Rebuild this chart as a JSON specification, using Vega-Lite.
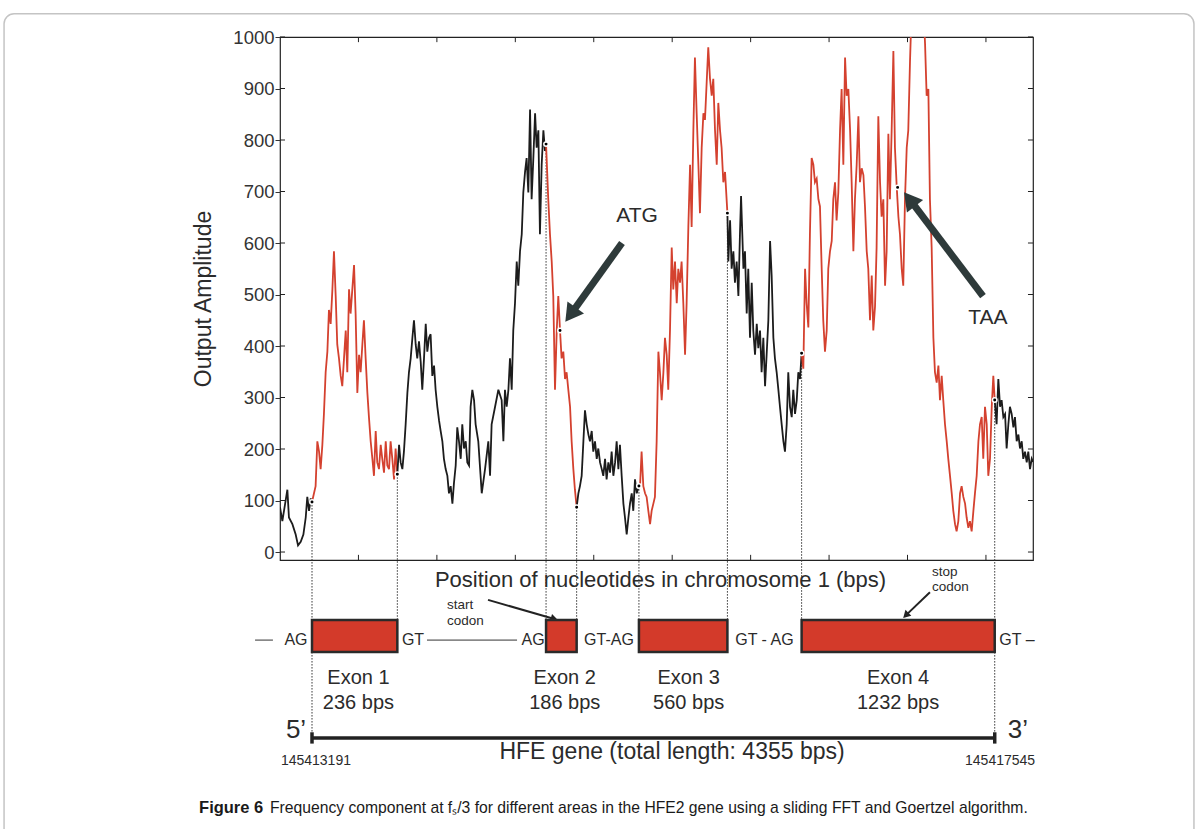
{
  "$schema": "https://vega.github.io/schema/vega-lite/v6.json",
  "width": 753,
  "height": 523,
  "autosize": {"type": "none"},
  "padding": {"left": 280, "top": 37, "right": 168, "bottom": 269},
  "background": "white",
  "config": {
    "view": {"stroke": "#222222", "strokeWidth": 1.2},
    "font": "Liberation Sans",
    "text": {"font": "Liberation Sans", "color": "#2b2b2b"},
    "axis": {"grid": false}
  },
  "datasets": {
    "hticks": [
      {"x": 0, "x2": 32, "y": 0}, {"x": 0, "x2": 32, "y": 100}, {"x": 0, "x2": 32, "y": 200}, {"x": 0, "x2": 32, "y": 300},
      {"x": 0, "x2": 32, "y": 400}, {"x": 0, "x2": 32, "y": 500}, {"x": 0, "x2": 32, "y": 600}, {"x": 0, "x2": 32, "y": 700},
      {"x": 0, "x2": 32, "y": 800}, {"x": 0, "x2": 32, "y": 900}, {"x": 0, "x2": 32, "y": 1000},
      {"x": 4768, "x2": 4800, "y": 0}, {"x": 4768, "x2": 4800, "y": 100}, {"x": 4768, "x2": 4800, "y": 200}, {"x": 4768, "x2": 4800, "y": 300},
      {"x": 4768, "x2": 4800, "y": 400}, {"x": 4768, "x2": 4800, "y": 500}, {"x": 4768, "x2": 4800, "y": 600}, {"x": 4768, "x2": 4800, "y": 700},
      {"x": 4768, "x2": 4800, "y": 800}, {"x": 4768, "x2": 4800, "y": 900}, {"x": 4768, "x2": 4800, "y": 1000}
    ],
    "vticks": [
      {"x": 500, "y": 1000, "y2": 990}, {"x": 1000, "y": 1000, "y2": 990}, {"x": 1500, "y": 1000, "y2": 990},
      {"x": 2000, "y": 1000, "y2": 990}, {"x": 2500, "y": 1000, "y2": 990}, {"x": 3000, "y": 1000, "y2": 990},
      {"x": 3500, "y": 1000, "y2": 990}, {"x": 4000, "y": 1000, "y2": 990}, {"x": 4500, "y": 1000, "y2": 990},
      {"x": 500, "y": -15.5, "y2": -5.5}, {"x": 1000, "y": -15.5, "y2": -5.5}, {"x": 1500, "y": -15.5, "y2": -5.5},
      {"x": 2000, "y": -15.5, "y2": -5.5}, {"x": 2500, "y": -15.5, "y2": -5.5}, {"x": 3000, "y": -15.5, "y2": -5.5},
      {"x": 3500, "y": -15.5, "y2": -5.5}, {"x": 4000, "y": -15.5, "y2": -5.5}, {"x": 4500, "y": -15.5, "y2": -5.5}
    ],
    "bounds": [
      {"x": 204, "y": 97, "y2": -361}, {"x": 748, "y": 151, "y2": -132}, {"x": 1696, "y": 792, "y2": -132},
      {"x": 1891, "y": 87, "y2": -132}, {"x": 2288, "y": 128, "y2": -132}, {"x": 2852, "y": 658, "y2": -132},
      {"x": 3325, "y": 386, "y2": -132}, {"x": 4556, "y": 295, "y2": -361}
    ],
    "signal": [
      {"s": 1, "p": "intron", "x": 0, "y": 87}, {"s": 1, "p": "intron", "x": 15, "y": 60}, {"s": 1, "p": "intron", "x": 47, "y": 121},
      {"s": 1, "p": "intron", "x": 57, "y": 67}, {"s": 1, "p": "intron", "x": 79, "y": 54}, {"s": 1, "p": "intron", "x": 100, "y": 34},
      {"s": 1, "p": "intron", "x": 115, "y": 13}, {"s": 1, "p": "intron", "x": 132, "y": 20}, {"s": 1, "p": "intron", "x": 149, "y": 34},
      {"s": 1, "p": "intron", "x": 164, "y": 67}, {"s": 1, "p": "intron", "x": 174, "y": 107}, {"s": 1, "p": "intron", "x": 185, "y": 80},
      {"s": 1, "p": "intron", "x": 196, "y": 104}, {"s": 1, "p": "intron", "x": 204, "y": 97},

      {"s": 2, "p": "exon", "x": 204, "y": 97}, {"s": 2, "p": "exon", "x": 227, "y": 128}, {"s": 2, "p": "exon", "x": 238, "y": 215},
      {"s": 2, "p": "exon", "x": 249, "y": 195}, {"s": 2, "p": "exon", "x": 259, "y": 161}, {"s": 2, "p": "exon", "x": 270, "y": 208},
      {"s": 2, "p": "exon", "x": 280, "y": 268}, {"s": 2, "p": "exon", "x": 291, "y": 349}, {"s": 2, "p": "exon", "x": 302, "y": 389},
      {"s": 2, "p": "exon", "x": 312, "y": 470}, {"s": 2, "p": "exon", "x": 323, "y": 443}, {"s": 2, "p": "exon", "x": 334, "y": 510},
      {"s": 2, "p": "exon", "x": 344, "y": 584}, {"s": 2, "p": "exon", "x": 355, "y": 497}, {"s": 2, "p": "exon", "x": 365, "y": 403},
      {"s": 2, "p": "exon", "x": 376, "y": 376}, {"s": 2, "p": "exon", "x": 387, "y": 342}, {"s": 2, "p": "exon", "x": 397, "y": 322},
      {"s": 2, "p": "exon", "x": 408, "y": 376}, {"s": 2, "p": "exon", "x": 419, "y": 430}, {"s": 2, "p": "exon", "x": 429, "y": 349},
      {"s": 2, "p": "exon", "x": 440, "y": 510}, {"s": 2, "p": "exon", "x": 450, "y": 463}, {"s": 2, "p": "exon", "x": 461, "y": 510},
      {"s": 2, "p": "exon", "x": 472, "y": 557}, {"s": 2, "p": "exon", "x": 482, "y": 463}, {"s": 2, "p": "exon", "x": 493, "y": 309},
      {"s": 2, "p": "exon", "x": 504, "y": 383}, {"s": 2, "p": "exon", "x": 514, "y": 349}, {"s": 2, "p": "exon", "x": 525, "y": 403},
      {"s": 2, "p": "exon", "x": 535, "y": 450}, {"s": 2, "p": "exon", "x": 546, "y": 376}, {"s": 2, "p": "exon", "x": 557, "y": 309},
      {"s": 2, "p": "exon", "x": 567, "y": 262}, {"s": 2, "p": "exon", "x": 578, "y": 215}, {"s": 2, "p": "exon", "x": 589, "y": 181},
      {"s": 2, "p": "exon", "x": 599, "y": 148}, {"s": 2, "p": "exon", "x": 610, "y": 235}, {"s": 2, "p": "exon", "x": 620, "y": 174},
      {"s": 2, "p": "exon", "x": 631, "y": 161}, {"s": 2, "p": "exon", "x": 642, "y": 208}, {"s": 2, "p": "exon", "x": 652, "y": 181},
      {"s": 2, "p": "exon", "x": 663, "y": 154}, {"s": 2, "p": "exon", "x": 674, "y": 215}, {"s": 2, "p": "exon", "x": 684, "y": 168},
      {"s": 2, "p": "exon", "x": 695, "y": 161}, {"s": 2, "p": "exon", "x": 705, "y": 215}, {"s": 2, "p": "exon", "x": 716, "y": 181},
      {"s": 2, "p": "exon", "x": 727, "y": 141}, {"s": 2, "p": "exon", "x": 737, "y": 201}, {"s": 2, "p": "exon", "x": 748, "y": 151},

      {"s": 3, "p": "intron", "x": 748, "y": 151}, {"s": 3, "p": "intron", "x": 759, "y": 208}, {"s": 3, "p": "intron", "x": 769, "y": 174},
      {"s": 3, "p": "intron", "x": 780, "y": 161}, {"s": 3, "p": "intron", "x": 790, "y": 195}, {"s": 3, "p": "intron", "x": 801, "y": 248},
      {"s": 3, "p": "intron", "x": 812, "y": 309}, {"s": 3, "p": "intron", "x": 822, "y": 349}, {"s": 3, "p": "intron", "x": 833, "y": 376},
      {"s": 3, "p": "intron", "x": 844, "y": 416}, {"s": 3, "p": "intron", "x": 854, "y": 450}, {"s": 3, "p": "intron", "x": 865, "y": 403},
      {"s": 3, "p": "intron", "x": 875, "y": 376}, {"s": 3, "p": "intron", "x": 886, "y": 409}, {"s": 3, "p": "intron", "x": 897, "y": 369},
      {"s": 3, "p": "intron", "x": 907, "y": 315}, {"s": 3, "p": "intron", "x": 918, "y": 376}, {"s": 3, "p": "intron", "x": 929, "y": 443},
      {"s": 3, "p": "intron", "x": 939, "y": 389}, {"s": 3, "p": "intron", "x": 950, "y": 416}, {"s": 3, "p": "intron", "x": 960, "y": 423},
      {"s": 3, "p": "intron", "x": 971, "y": 342}, {"s": 3, "p": "intron", "x": 982, "y": 362}, {"s": 3, "p": "intron", "x": 992, "y": 315},
      {"s": 3, "p": "intron", "x": 1003, "y": 282}, {"s": 3, "p": "intron", "x": 1014, "y": 255}, {"s": 3, "p": "intron", "x": 1024, "y": 235},
      {"s": 3, "p": "intron", "x": 1035, "y": 215}, {"s": 3, "p": "intron", "x": 1045, "y": 181}, {"s": 3, "p": "intron", "x": 1056, "y": 161},
      {"s": 3, "p": "intron", "x": 1067, "y": 148}, {"s": 3, "p": "intron", "x": 1077, "y": 114}, {"s": 3, "p": "intron", "x": 1088, "y": 128},
      {"s": 3, "p": "intron", "x": 1099, "y": 94}, {"s": 3, "p": "intron", "x": 1109, "y": 134}, {"s": 3, "p": "intron", "x": 1120, "y": 168},
      {"s": 3, "p": "intron", "x": 1130, "y": 242}, {"s": 3, "p": "intron", "x": 1141, "y": 215}, {"s": 3, "p": "intron", "x": 1152, "y": 181},
      {"s": 3, "p": "intron", "x": 1162, "y": 248}, {"s": 3, "p": "intron", "x": 1173, "y": 201}, {"s": 3, "p": "intron", "x": 1184, "y": 215},
      {"s": 3, "p": "intron", "x": 1194, "y": 174}, {"s": 3, "p": "intron", "x": 1205, "y": 168}, {"s": 3, "p": "intron", "x": 1215, "y": 282},
      {"s": 3, "p": "intron", "x": 1226, "y": 315}, {"s": 3, "p": "intron", "x": 1237, "y": 295}, {"s": 3, "p": "intron", "x": 1247, "y": 248},
      {"s": 3, "p": "intron", "x": 1264, "y": 215}, {"s": 3, "p": "intron", "x": 1286, "y": 114}, {"s": 3, "p": "intron", "x": 1307, "y": 161},
      {"s": 3, "p": "intron", "x": 1328, "y": 215}, {"s": 3, "p": "intron", "x": 1339, "y": 148}, {"s": 3, "p": "intron", "x": 1349, "y": 248},
      {"s": 3, "p": "intron", "x": 1371, "y": 282}, {"s": 3, "p": "intron", "x": 1392, "y": 315}, {"s": 3, "p": "intron", "x": 1413, "y": 295},
      {"s": 3, "p": "intron", "x": 1424, "y": 215}, {"s": 3, "p": "intron", "x": 1434, "y": 315}, {"s": 3, "p": "intron", "x": 1445, "y": 282},
      {"s": 3, "p": "intron", "x": 1456, "y": 315}, {"s": 3, "p": "intron", "x": 1466, "y": 376}, {"s": 3, "p": "intron", "x": 1477, "y": 315},
      {"s": 3, "p": "intron", "x": 1487, "y": 430}, {"s": 3, "p": "intron", "x": 1498, "y": 483}, {"s": 3, "p": "intron", "x": 1509, "y": 564},
      {"s": 3, "p": "intron", "x": 1519, "y": 517}, {"s": 3, "p": "intron", "x": 1530, "y": 584}, {"s": 3, "p": "intron", "x": 1541, "y": 617},
      {"s": 3, "p": "intron", "x": 1551, "y": 698}, {"s": 3, "p": "intron", "x": 1562, "y": 738}, {"s": 3, "p": "intron", "x": 1572, "y": 765},
      {"s": 3, "p": "intron", "x": 1583, "y": 698}, {"s": 3, "p": "intron", "x": 1594, "y": 859}, {"s": 3, "p": "intron", "x": 1604, "y": 685},
      {"s": 3, "p": "intron", "x": 1615, "y": 765}, {"s": 3, "p": "intron", "x": 1626, "y": 852}, {"s": 3, "p": "intron", "x": 1636, "y": 785},
      {"s": 3, "p": "intron", "x": 1647, "y": 819}, {"s": 3, "p": "intron", "x": 1657, "y": 617}, {"s": 3, "p": "intron", "x": 1668, "y": 752},
      {"s": 3, "p": "intron", "x": 1679, "y": 819}, {"s": 3, "p": "intron", "x": 1689, "y": 779}, {"s": 3, "p": "intron", "x": 1696, "y": 792},

      {"s": 4, "p": "exon", "x": 1696, "y": 792}, {"s": 4, "p": "exon", "x": 1710, "y": 685}, {"s": 4, "p": "exon", "x": 1721, "y": 617},
      {"s": 4, "p": "exon", "x": 1732, "y": 564}, {"s": 4, "p": "exon", "x": 1742, "y": 497}, {"s": 4, "p": "exon", "x": 1753, "y": 315},
      {"s": 4, "p": "exon", "x": 1764, "y": 430}, {"s": 4, "p": "exon", "x": 1774, "y": 497}, {"s": 4, "p": "exon", "x": 1785, "y": 430},
      {"s": 4, "p": "exon", "x": 1795, "y": 376}, {"s": 4, "p": "exon", "x": 1806, "y": 389}, {"s": 4, "p": "exon", "x": 1817, "y": 336},
      {"s": 4, "p": "exon", "x": 1827, "y": 349}, {"s": 4, "p": "exon", "x": 1838, "y": 315}, {"s": 4, "p": "exon", "x": 1849, "y": 282},
      {"s": 4, "p": "exon", "x": 1859, "y": 215}, {"s": 4, "p": "exon", "x": 1870, "y": 161}, {"s": 4, "p": "exon", "x": 1880, "y": 121},
      {"s": 4, "p": "exon", "x": 1891, "y": 87},

      {"s": 5, "p": "intron", "x": 1891, "y": 87}, {"s": 5, "p": "intron", "x": 1902, "y": 114}, {"s": 5, "p": "intron", "x": 1912, "y": 128},
      {"s": 5, "p": "intron", "x": 1923, "y": 148}, {"s": 5, "p": "intron", "x": 1934, "y": 215}, {"s": 5, "p": "intron", "x": 1944, "y": 275},
      {"s": 5, "p": "intron", "x": 1955, "y": 248}, {"s": 5, "p": "intron", "x": 1966, "y": 228}, {"s": 5, "p": "intron", "x": 1976, "y": 215},
      {"s": 5, "p": "intron", "x": 1987, "y": 235}, {"s": 5, "p": "intron", "x": 1997, "y": 195}, {"s": 5, "p": "intron", "x": 2008, "y": 215},
      {"s": 5, "p": "intron", "x": 2019, "y": 181}, {"s": 5, "p": "intron", "x": 2029, "y": 201}, {"s": 5, "p": "intron", "x": 2040, "y": 174},
      {"s": 5, "p": "intron", "x": 2051, "y": 161}, {"s": 5, "p": "intron", "x": 2061, "y": 148}, {"s": 5, "p": "intron", "x": 2072, "y": 181},
      {"s": 5, "p": "intron", "x": 2082, "y": 141}, {"s": 5, "p": "intron", "x": 2093, "y": 174}, {"s": 5, "p": "intron", "x": 2104, "y": 154},
      {"s": 5, "p": "intron", "x": 2114, "y": 195}, {"s": 5, "p": "intron", "x": 2125, "y": 148}, {"s": 5, "p": "intron", "x": 2136, "y": 174},
      {"s": 5, "p": "intron", "x": 2146, "y": 215}, {"s": 5, "p": "intron", "x": 2157, "y": 161}, {"s": 5, "p": "intron", "x": 2167, "y": 208},
      {"s": 5, "p": "intron", "x": 2178, "y": 148}, {"s": 5, "p": "intron", "x": 2189, "y": 94}, {"s": 5, "p": "intron", "x": 2199, "y": 67},
      {"s": 5, "p": "intron", "x": 2210, "y": 34}, {"s": 5, "p": "intron", "x": 2221, "y": 67}, {"s": 5, "p": "intron", "x": 2231, "y": 94},
      {"s": 5, "p": "intron", "x": 2242, "y": 114}, {"s": 5, "p": "intron", "x": 2252, "y": 80}, {"s": 5, "p": "intron", "x": 2263, "y": 141},
      {"s": 5, "p": "intron", "x": 2274, "y": 114}, {"s": 5, "p": "intron", "x": 2288, "y": 128},

      {"s": 6, "p": "exon", "x": 2288, "y": 128}, {"s": 6, "p": "exon", "x": 2295, "y": 128}, {"s": 6, "p": "exon", "x": 2305, "y": 195},
      {"s": 6, "p": "exon", "x": 2316, "y": 128}, {"s": 6, "p": "exon", "x": 2327, "y": 114}, {"s": 6, "p": "exon", "x": 2337, "y": 107},
      {"s": 6, "p": "exon", "x": 2348, "y": 80}, {"s": 6, "p": "exon", "x": 2359, "y": 54}, {"s": 6, "p": "exon", "x": 2369, "y": 80},
      {"s": 6, "p": "exon", "x": 2380, "y": 94}, {"s": 6, "p": "exon", "x": 2390, "y": 107}, {"s": 6, "p": "exon", "x": 2401, "y": 215},
      {"s": 6, "p": "exon", "x": 2412, "y": 389}, {"s": 6, "p": "exon", "x": 2422, "y": 349}, {"s": 6, "p": "exon", "x": 2433, "y": 295},
      {"s": 6, "p": "exon", "x": 2444, "y": 349}, {"s": 6, "p": "exon", "x": 2454, "y": 416}, {"s": 6, "p": "exon", "x": 2465, "y": 383},
      {"s": 6, "p": "exon", "x": 2475, "y": 315}, {"s": 6, "p": "exon", "x": 2486, "y": 430}, {"s": 6, "p": "exon", "x": 2497, "y": 591},
      {"s": 6, "p": "exon", "x": 2507, "y": 510}, {"s": 6, "p": "exon", "x": 2518, "y": 564}, {"s": 6, "p": "exon", "x": 2529, "y": 483},
      {"s": 6, "p": "exon", "x": 2539, "y": 550}, {"s": 6, "p": "exon", "x": 2550, "y": 523}, {"s": 6, "p": "exon", "x": 2560, "y": 564},
      {"s": 6, "p": "exon", "x": 2571, "y": 483}, {"s": 6, "p": "exon", "x": 2582, "y": 383}, {"s": 6, "p": "exon", "x": 2592, "y": 483},
      {"s": 6, "p": "exon", "x": 2603, "y": 631}, {"s": 6, "p": "exon", "x": 2614, "y": 752}, {"s": 6, "p": "exon", "x": 2624, "y": 631},
      {"s": 6, "p": "exon", "x": 2635, "y": 819}, {"s": 6, "p": "exon", "x": 2645, "y": 960}, {"s": 6, "p": "exon", "x": 2656, "y": 852},
      {"s": 6, "p": "exon", "x": 2667, "y": 752}, {"s": 6, "p": "exon", "x": 2677, "y": 658}, {"s": 6, "p": "exon", "x": 2688, "y": 785},
      {"s": 6, "p": "exon", "x": 2699, "y": 852}, {"s": 6, "p": "exon", "x": 2709, "y": 839}, {"s": 6, "p": "exon", "x": 2720, "y": 913},
      {"s": 6, "p": "exon", "x": 2730, "y": 980}, {"s": 6, "p": "exon", "x": 2741, "y": 919}, {"s": 6, "p": "exon", "x": 2752, "y": 886},
      {"s": 6, "p": "exon", "x": 2762, "y": 919}, {"s": 6, "p": "exon", "x": 2773, "y": 819}, {"s": 6, "p": "exon", "x": 2784, "y": 752},
      {"s": 6, "p": "exon", "x": 2794, "y": 872}, {"s": 6, "p": "exon", "x": 2805, "y": 819}, {"s": 6, "p": "exon", "x": 2815, "y": 785},
      {"s": 6, "p": "exon", "x": 2826, "y": 718}, {"s": 6, "p": "exon", "x": 2837, "y": 738}, {"s": 6, "p": "exon", "x": 2852, "y": 658},

      {"s": 7, "p": "intron", "x": 2852, "y": 658}, {"s": 7, "p": "intron", "x": 2858, "y": 564}, {"s": 7, "p": "intron", "x": 2869, "y": 644},
      {"s": 7, "p": "intron", "x": 2879, "y": 550}, {"s": 7, "p": "intron", "x": 2890, "y": 584}, {"s": 7, "p": "intron", "x": 2900, "y": 523},
      {"s": 7, "p": "intron", "x": 2911, "y": 564}, {"s": 7, "p": "intron", "x": 2922, "y": 497}, {"s": 7, "p": "intron", "x": 2932, "y": 617},
      {"s": 7, "p": "intron", "x": 2939, "y": 691}, {"s": 7, "p": "intron", "x": 2947, "y": 617}, {"s": 7, "p": "intron", "x": 2954, "y": 550},
      {"s": 7, "p": "intron", "x": 2964, "y": 584}, {"s": 7, "p": "intron", "x": 2975, "y": 463}, {"s": 7, "p": "intron", "x": 2985, "y": 550},
      {"s": 7, "p": "intron", "x": 2996, "y": 416}, {"s": 7, "p": "intron", "x": 3007, "y": 523}, {"s": 7, "p": "intron", "x": 3017, "y": 430},
      {"s": 7, "p": "intron", "x": 3028, "y": 383}, {"s": 7, "p": "intron", "x": 3039, "y": 443}, {"s": 7, "p": "intron", "x": 3049, "y": 396},
      {"s": 7, "p": "intron", "x": 3060, "y": 430}, {"s": 7, "p": "intron", "x": 3070, "y": 349}, {"s": 7, "p": "intron", "x": 3081, "y": 416},
      {"s": 7, "p": "intron", "x": 3092, "y": 322}, {"s": 7, "p": "intron", "x": 3102, "y": 383}, {"s": 7, "p": "intron", "x": 3113, "y": 450},
      {"s": 7, "p": "intron", "x": 3124, "y": 604}, {"s": 7, "p": "intron", "x": 3134, "y": 537}, {"s": 7, "p": "intron", "x": 3145, "y": 416},
      {"s": 7, "p": "intron", "x": 3155, "y": 376}, {"s": 7, "p": "intron", "x": 3166, "y": 349}, {"s": 7, "p": "intron", "x": 3177, "y": 315},
      {"s": 7, "p": "intron", "x": 3187, "y": 282}, {"s": 7, "p": "intron", "x": 3198, "y": 248}, {"s": 7, "p": "intron", "x": 3209, "y": 215},
      {"s": 7, "p": "intron", "x": 3219, "y": 195}, {"s": 7, "p": "intron", "x": 3230, "y": 248}, {"s": 7, "p": "intron", "x": 3240, "y": 349},
      {"s": 7, "p": "intron", "x": 3251, "y": 282}, {"s": 7, "p": "intron", "x": 3262, "y": 262}, {"s": 7, "p": "intron", "x": 3272, "y": 315},
      {"s": 7, "p": "intron", "x": 3283, "y": 268}, {"s": 7, "p": "intron", "x": 3294, "y": 295}, {"s": 7, "p": "intron", "x": 3304, "y": 349},
      {"s": 7, "p": "intron", "x": 3315, "y": 336}, {"s": 7, "p": "intron", "x": 3325, "y": 386},

      {"s": 8, "p": "exon", "x": 3325, "y": 386}, {"s": 8, "p": "exon", "x": 3336, "y": 356}, {"s": 8, "p": "exon", "x": 3347, "y": 550},
      {"s": 8, "p": "exon", "x": 3357, "y": 483}, {"s": 8, "p": "exon", "x": 3368, "y": 436}, {"s": 8, "p": "exon", "x": 3378, "y": 617},
      {"s": 8, "p": "exon", "x": 3389, "y": 765}, {"s": 8, "p": "exon", "x": 3400, "y": 752}, {"s": 8, "p": "exon", "x": 3410, "y": 718},
      {"s": 8, "p": "exon", "x": 3421, "y": 725}, {"s": 8, "p": "exon", "x": 3432, "y": 685}, {"s": 8, "p": "exon", "x": 3442, "y": 671},
      {"s": 8, "p": "exon", "x": 3453, "y": 550}, {"s": 8, "p": "exon", "x": 3463, "y": 450}, {"s": 8, "p": "exon", "x": 3474, "y": 389},
      {"s": 8, "p": "exon", "x": 3485, "y": 430}, {"s": 8, "p": "exon", "x": 3495, "y": 550}, {"s": 8, "p": "exon", "x": 3506, "y": 584},
      {"s": 8, "p": "exon", "x": 3517, "y": 604}, {"s": 8, "p": "exon", "x": 3527, "y": 685}, {"s": 8, "p": "exon", "x": 3538, "y": 718},
      {"s": 8, "p": "exon", "x": 3548, "y": 644}, {"s": 8, "p": "exon", "x": 3559, "y": 698}, {"s": 8, "p": "exon", "x": 3570, "y": 819},
      {"s": 8, "p": "exon", "x": 3580, "y": 899}, {"s": 8, "p": "exon", "x": 3591, "y": 752}, {"s": 8, "p": "exon", "x": 3602, "y": 960},
      {"s": 8, "p": "exon", "x": 3612, "y": 886}, {"s": 8, "p": "exon", "x": 3623, "y": 899}, {"s": 8, "p": "exon", "x": 3634, "y": 819},
      {"s": 8, "p": "exon", "x": 3644, "y": 718}, {"s": 8, "p": "exon", "x": 3655, "y": 584}, {"s": 8, "p": "exon", "x": 3665, "y": 685},
      {"s": 8, "p": "exon", "x": 3676, "y": 752}, {"s": 8, "p": "exon", "x": 3687, "y": 846}, {"s": 8, "p": "exon", "x": 3697, "y": 718},
      {"s": 8, "p": "exon", "x": 3708, "y": 745}, {"s": 8, "p": "exon", "x": 3719, "y": 732}, {"s": 8, "p": "exon", "x": 3729, "y": 671},
      {"s": 8, "p": "exon", "x": 3740, "y": 584}, {"s": 8, "p": "exon", "x": 3750, "y": 550}, {"s": 8, "p": "exon", "x": 3761, "y": 450},
      {"s": 8, "p": "exon", "x": 3772, "y": 537}, {"s": 8, "p": "exon", "x": 3782, "y": 430}, {"s": 8, "p": "exon", "x": 3793, "y": 477},
      {"s": 8, "p": "exon", "x": 3803, "y": 591}, {"s": 8, "p": "exon", "x": 3814, "y": 846}, {"s": 8, "p": "exon", "x": 3825, "y": 718},
      {"s": 8, "p": "exon", "x": 3835, "y": 651}, {"s": 8, "p": "exon", "x": 3846, "y": 685}, {"s": 8, "p": "exon", "x": 3857, "y": 517},
      {"s": 8, "p": "exon", "x": 3867, "y": 584}, {"s": 8, "p": "exon", "x": 3878, "y": 812}, {"s": 8, "p": "exon", "x": 3888, "y": 685},
      {"s": 8, "p": "exon", "x": 3899, "y": 819}, {"s": 8, "p": "exon", "x": 3910, "y": 973}, {"s": 8, "p": "exon", "x": 3920, "y": 785},
      {"s": 8, "p": "exon", "x": 3931, "y": 711}, {"s": 8, "p": "exon", "x": 3942, "y": 651}, {"s": 8, "p": "exon", "x": 3952, "y": 617},
      {"s": 8, "p": "exon", "x": 3963, "y": 550}, {"s": 8, "p": "exon", "x": 3973, "y": 517}, {"s": 8, "p": "exon", "x": 3984, "y": 685},
      {"s": 8, "p": "exon", "x": 3995, "y": 785}, {"s": 8, "p": "exon", "x": 4005, "y": 819}, {"s": 8, "p": "exon", "x": 4016, "y": 953},
      {"s": 8, "p": "exon", "x": 4027, "y": 1060}, {"s": 8, "p": "exon", "x": 4101, "y": 1060}, {"s": 8, "p": "exon", "x": 4112, "y": 986},
      {"s": 8, "p": "exon", "x": 4122, "y": 886}, {"s": 8, "p": "exon", "x": 4133, "y": 899}, {"s": 8, "p": "exon", "x": 4143, "y": 685},
      {"s": 8, "p": "exon", "x": 4154, "y": 591}, {"s": 8, "p": "exon", "x": 4165, "y": 416}, {"s": 8, "p": "exon", "x": 4175, "y": 349},
      {"s": 8, "p": "exon", "x": 4186, "y": 329}, {"s": 8, "p": "exon", "x": 4197, "y": 362}, {"s": 8, "p": "exon", "x": 4207, "y": 295},
      {"s": 8, "p": "exon", "x": 4218, "y": 342}, {"s": 8, "p": "exon", "x": 4228, "y": 295}, {"s": 8, "p": "exon", "x": 4239, "y": 248},
      {"s": 8, "p": "exon", "x": 4250, "y": 215}, {"s": 8, "p": "exon", "x": 4260, "y": 181}, {"s": 8, "p": "exon", "x": 4271, "y": 148},
      {"s": 8, "p": "exon", "x": 4282, "y": 114}, {"s": 8, "p": "exon", "x": 4292, "y": 80}, {"s": 8, "p": "exon", "x": 4303, "y": 54},
      {"s": 8, "p": "exon", "x": 4313, "y": 40}, {"s": 8, "p": "exon", "x": 4324, "y": 60}, {"s": 8, "p": "exon", "x": 4335, "y": 114},
      {"s": 8, "p": "exon", "x": 4345, "y": 128}, {"s": 8, "p": "exon", "x": 4356, "y": 107}, {"s": 8, "p": "exon", "x": 4367, "y": 94},
      {"s": 8, "p": "exon", "x": 4377, "y": 67}, {"s": 8, "p": "exon", "x": 4388, "y": 47}, {"s": 8, "p": "exon", "x": 4398, "y": 60},
      {"s": 8, "p": "exon", "x": 4409, "y": 40}, {"s": 8, "p": "exon", "x": 4420, "y": 80}, {"s": 8, "p": "exon", "x": 4430, "y": 114},
      {"s": 8, "p": "exon", "x": 4441, "y": 148}, {"s": 8, "p": "exon", "x": 4452, "y": 215}, {"s": 8, "p": "exon", "x": 4462, "y": 248},
      {"s": 8, "p": "exon", "x": 4473, "y": 262}, {"s": 8, "p": "exon", "x": 4483, "y": 181}, {"s": 8, "p": "exon", "x": 4494, "y": 282},
      {"s": 8, "p": "exon", "x": 4505, "y": 248}, {"s": 8, "p": "exon", "x": 4515, "y": 148}, {"s": 8, "p": "exon", "x": 4526, "y": 181},
      {"s": 8, "p": "exon", "x": 4537, "y": 282}, {"s": 8, "p": "exon", "x": 4547, "y": 342}, {"s": 8, "p": "exon", "x": 4556, "y": 295},

      {"s": 9, "p": "intron", "x": 4556, "y": 295}, {"s": 9, "p": "intron", "x": 4568, "y": 248}, {"s": 9, "p": "intron", "x": 4579, "y": 336},
      {"s": 9, "p": "intron", "x": 4590, "y": 282}, {"s": 9, "p": "intron", "x": 4600, "y": 295}, {"s": 9, "p": "intron", "x": 4611, "y": 262},
      {"s": 9, "p": "intron", "x": 4622, "y": 268}, {"s": 9, "p": "intron", "x": 4632, "y": 201}, {"s": 9, "p": "intron", "x": 4643, "y": 248},
      {"s": 9, "p": "intron", "x": 4653, "y": 282}, {"s": 9, "p": "intron", "x": 4664, "y": 268}, {"s": 9, "p": "intron", "x": 4675, "y": 242},
      {"s": 9, "p": "intron", "x": 4685, "y": 262}, {"s": 9, "p": "intron", "x": 4696, "y": 215}, {"s": 9, "p": "intron", "x": 4707, "y": 228},
      {"s": 9, "p": "intron", "x": 4717, "y": 201}, {"s": 9, "p": "intron", "x": 4728, "y": 215}, {"s": 9, "p": "intron", "x": 4738, "y": 181},
      {"s": 9, "p": "intron", "x": 4749, "y": 195}, {"s": 9, "p": "intron", "x": 4760, "y": 174}, {"s": 9, "p": "intron", "x": 4770, "y": 195},
      {"s": 9, "p": "intron", "x": 4781, "y": 161}, {"s": 9, "p": "intron", "x": 4792, "y": 181}, {"s": 9, "p": "intron", "x": 4800, "y": 175}
    ],
    "dots": [
      {"x": 204, "y": 97}, {"x": 748, "y": 151}, {"x": 1696, "y": 792}, {"x": 1785, "y": 430}, {"x": 1891, "y": 87},
      {"x": 2288, "y": 128}, {"x": 2852, "y": 658}, {"x": 3325, "y": 386}, {"x": 3937, "y": 708}, {"x": 4556, "y": 295}
    ],
    "bigArrows": [
      {"x": 2180, "y": 600, "x2": 1852, "y2": 461},
      {"x": 4481, "y": 497, "x2": 4013, "y2": 685}
    ],
    "bigHeads": [
      {"x": 1852, "y": 461, "angle": 216},
      {"x": 4013, "y": 685, "angle": 322}
    ],
    "smallArrows": [
      {"x": 1326, "y": -93, "x2": 1749, "y2": -130},
      {"x": 4143, "y": -78, "x2": 3989, "y2": -123}
    ],
    "smallHeads": [
      {"x": 1749, "y": -130, "angle": 106},
      {"x": 3989, "y": -123, "angle": 226}
    ],
    "connectors": [
      {"x": -159, "x2": -45},
      {"x": 937, "x2": 1511}
    ],
    "gene": [{"x": 204, "x2": 4556}],
    "geneEnds": [{"x": 204}, {"x": 4556}],
    "exons": [
      {"name": "Exon 1", "size": "236 bps", "x": 204, "x2": 748, "center": 500},
      {"name": "Exon 2", "size": "186 bps", "x": 1696, "x2": 1891, "center": 1815},
      {"name": "Exon 3", "size": "560 bps", "x": 2288, "x2": 2852, "center": 2605},
      {"name": "Exon 4", "size": "1232 bps", "x": 3325, "x2": 4556, "center": 3940}
    ],
    "sites": [
      {"t": "AG", "x": 102}, {"t": "GT", "x": 848}, {"t": "AG", "x": 1613},
      {"t": "GT-AG", "x": 2097}, {"t": "GT - AG", "x": 3088}, {"t": "GT –", "x": 4698}
    ],
    "codonNotes": [
      {"t": "start", "x": 1064, "y": -103}, {"t": "codon", "x": 1064, "y": -134},
      {"t": "stop", "x": 4156, "y": -39}, {"t": "codon", "x": 4156, "y": -68}
    ],
    "codonLabels": [
      {"t": "ATG", "x": 2276, "y": 652}, {"t": "TAA", "x": 4513, "y": 454}
    ],
    "ends": [
      {"t": "5’", "x": 102, "y": -346}, {"t": "3’", "x": 4704, "y": -346}
    ],
    "coords": [
      {"t": "145413191", "x": 229, "y": -406}, {"t": "145417545", "x": 4590, "y": -406}
    ],
    "geneTitle": [
      {"t": "HFE gene (total length: 4355 bps)", "x": 2499, "y": -388}
    ],
    "captionBold": [{"t": "Figure 6", "x": -516, "y": -497}],
    "captionText": [{"t": "Frequency component at fₛ/3 for different areas in the HFE2 gene using a sliding FFT and Goertzel algorithm.", "x": -64, "y": -497}],
    "frame": [{"x": -1759, "x2": 5826, "y": 1045, "y2": -569}]
  },
  "layer": [
    {
      "data": {"name": "hticks"},
      "mark": {"type": "rule", "stroke": "#222222", "strokeWidth": 1},
      "encoding": {
        "x": {
          "field": "x", "type": "quantitative",
          "scale": {"domain": [0, 4800], "nice": false, "zero": false},
          "axis": {
            "title": "Position of nucleotides in chromosome 1 (bps)",
            "labels": false, "ticks": false, "domain": false, "grid": false,
            "titleFont": "Liberation Sans", "titleFontSize": 22, "titleFontWeight": "normal", "titleColor": "#2b2b2b",
            "titleX": 380, "titleY": 19, "titleAlign": "center", "titleBaseline": "middle"
          }
        },
        "x2": {"field": "x2"},
        "y": {
          "field": "y", "type": "quantitative",
          "scale": {"domain": [-15.5, 1000], "nice": false, "zero": false},
          "axis": {
            "title": "Output Amplitude",
            "values": [0, 100, 200, 300, 400, 500, 600, 700, 800, 900, 1000],
            "format": "d",
            "grid": false, "domain": false,
            "tickSize": 5, "tickColor": "#333333", "tickWidth": 1,
            "labelFont": "Liberation Sans", "labelFontSize": 18.5, "labelColor": "#333333", "labelPadding": 1,
            "titleFont": "Liberation Sans", "titleFontSize": 23, "titleFontWeight": "normal", "titleColor": "#2b2b2b",
            "titleAngle": 270, "titleX": -77, "titleY": 261.5, "titleAlign": "center", "titleBaseline": "middle"
          }
        }
      }
    },
    {
      "data": {"name": "vticks"},
      "mark": {"type": "rule", "stroke": "#222222", "strokeWidth": 1},
      "encoding": {
        "x": {"field": "x", "type": "quantitative"},
        "y": {"field": "y", "type": "quantitative"},
        "y2": {"field": "y2"}
      }
    },
    {
      "data": {"name": "bounds"},
      "mark": {"type": "rule", "stroke": "#333333", "strokeWidth": 1, "strokeDash": [1.5, 1.5]},
      "encoding": {
        "x": {"field": "x", "type": "quantitative"},
        "y": {"field": "y", "type": "quantitative"},
        "y2": {"field": "y2"}
      }
    },
    {
      "data": {"name": "signal"},
      "mark": {"type": "line", "strokeWidth": 1.8, "clip": true},
      "encoding": {
        "x": {"field": "x", "type": "quantitative"},
        "y": {"field": "y", "type": "quantitative"},
        "detail": {"field": "s", "type": "nominal"},
        "color": {
          "field": "p", "type": "nominal", "legend": null,
          "scale": {"domain": ["intron", "exon"], "range": ["#1c1c1c", "#d4412f"]}
        }
      }
    },
    {
      "data": {"name": "dots"},
      "mark": {"type": "point", "filled": true, "shape": "circle", "size": 20, "color": "#000000", "stroke": "#ffffff", "strokeWidth": 1.5, "opacity": 1},
      "encoding": {
        "x": {"field": "x", "type": "quantitative"},
        "y": {"field": "y", "type": "quantitative"}
      }
    },
    {
      "data": {"name": "bigArrows"},
      "mark": {"type": "rule", "stroke": "#2e3a3a", "strokeWidth": 7, "strokeCap": "butt"},
      "encoding": {
        "x": {"field": "x", "type": "quantitative"},
        "y": {"field": "y", "type": "quantitative"},
        "x2": {"field": "x2"},
        "y2": {"field": "y2"}
      }
    },
    {
      "data": {"name": "bigHeads"},
      "mark": {"type": "point", "shape": "triangle-up", "filled": true, "size": 420, "color": "#2e3a3a", "opacity": 1},
      "encoding": {
        "x": {"field": "x", "type": "quantitative"},
        "y": {"field": "y", "type": "quantitative"},
        "angle": {"field": "angle", "type": "quantitative", "scale": null}
      }
    },
    {
      "data": {"name": "smallArrows"},
      "mark": {"type": "rule", "stroke": "#222222", "strokeWidth": 2},
      "encoding": {
        "x": {"field": "x", "type": "quantitative"},
        "y": {"field": "y", "type": "quantitative"},
        "x2": {"field": "x2"},
        "y2": {"field": "y2"}
      }
    },
    {
      "data": {"name": "smallHeads"},
      "mark": {"type": "point", "shape": "triangle-up", "filled": true, "size": 70, "color": "#222222", "opacity": 1},
      "encoding": {
        "x": {"field": "x", "type": "quantitative"},
        "y": {"field": "y", "type": "quantitative"},
        "angle": {"field": "angle", "type": "quantitative", "scale": null}
      }
    },
    {
      "data": {"name": "connectors"},
      "mark": {"type": "rule", "stroke": "#333333", "strokeWidth": 1},
      "encoding": {
        "x": {"field": "x", "type": "quantitative"},
        "x2": {"field": "x2"},
        "y": {"datum": -171, "type": "quantitative"}
      }
    },
    {
      "data": {"name": "gene"},
      "mark": {"type": "rule", "stroke": "#222222", "strokeWidth": 3.5},
      "encoding": {
        "x": {"field": "x", "type": "quantitative"},
        "x2": {"field": "x2"},
        "y": {"datum": -361, "type": "quantitative"}
      }
    },
    {
      "data": {"name": "geneEnds"},
      "mark": {"type": "rule", "stroke": "#222222", "strokeWidth": 3.5},
      "encoding": {
        "x": {"field": "x", "type": "quantitative"},
        "y": {"datum": -350, "type": "quantitative"},
        "y2": {"datum": -372}
      }
    },
    {
      "data": {"name": "exons"},
      "mark": {"type": "rect", "fill": "#d33a2a", "stroke": "#2a2a2a", "strokeWidth": 2.5},
      "encoding": {
        "x": {"field": "x", "type": "quantitative"},
        "x2": {"field": "x2"},
        "y": {"datum": -132, "type": "quantitative"},
        "y2": {"datum": -194}
      }
    },
    {
      "data": {"name": "exons"},
      "mark": {"type": "text", "fontSize": 20, "align": "center", "baseline": "middle"},
      "encoding": {
        "x": {"field": "center", "type": "quantitative"},
        "y": {"datum": -245, "type": "quantitative"},
        "text": {"field": "name"}
      }
    },
    {
      "data": {"name": "exons"},
      "mark": {"type": "text", "fontSize": 20, "align": "center", "baseline": "middle"},
      "encoding": {
        "x": {"field": "center", "type": "quantitative"},
        "y": {"datum": -293, "type": "quantitative"},
        "text": {"field": "size"}
      }
    },
    {
      "data": {"name": "sites"},
      "mark": {"type": "text", "fontSize": 16, "align": "center", "baseline": "middle"},
      "encoding": {
        "x": {"field": "x", "type": "quantitative"},
        "y": {"datum": -171, "type": "quantitative"},
        "text": {"field": "t"}
      }
    },
    {
      "data": {"name": "codonNotes"},
      "mark": {"type": "text", "fontSize": 13.5, "align": "left", "baseline": "middle"},
      "encoding": {
        "x": {"field": "x", "type": "quantitative"},
        "y": {"field": "y", "type": "quantitative"},
        "text": {"field": "t"}
      }
    },
    {
      "data": {"name": "codonLabels"},
      "mark": {"type": "text", "fontSize": 21, "align": "center", "baseline": "middle"},
      "encoding": {
        "x": {"field": "x", "type": "quantitative"},
        "y": {"field": "y", "type": "quantitative"},
        "text": {"field": "t"}
      }
    },
    {
      "data": {"name": "ends"},
      "mark": {"type": "text", "fontSize": 26, "align": "center", "baseline": "middle"},
      "encoding": {
        "x": {"field": "x", "type": "quantitative"},
        "y": {"field": "y", "type": "quantitative"},
        "text": {"field": "t"}
      }
    },
    {
      "data": {"name": "coords"},
      "mark": {"type": "text", "fontSize": 14, "align": "center", "baseline": "middle"},
      "encoding": {
        "x": {"field": "x", "type": "quantitative"},
        "y": {"field": "y", "type": "quantitative"},
        "text": {"field": "t"}
      }
    },
    {
      "data": {"name": "geneTitle"},
      "mark": {"type": "text", "fontSize": 23, "align": "center", "baseline": "middle"},
      "encoding": {
        "x": {"field": "x", "type": "quantitative"},
        "y": {"field": "y", "type": "quantitative"},
        "text": {"field": "t"}
      }
    },
    {
      "data": {"name": "captionBold"},
      "mark": {"type": "text", "fontSize": 16.5, "fontWeight": "bold", "align": "left", "baseline": "middle", "color": "#1a1a1a"},
      "encoding": {
        "x": {"field": "x", "type": "quantitative"},
        "y": {"field": "y", "type": "quantitative"},
        "text": {"field": "t"}
      }
    },
    {
      "data": {"name": "captionText"},
      "mark": {"type": "text", "fontSize": 15.7, "align": "left", "baseline": "middle", "color": "#1a1a1a"},
      "encoding": {
        "x": {"field": "x", "type": "quantitative"},
        "y": {"field": "y", "type": "quantitative"},
        "text": {"field": "t"}
      }
    },
    {
      "data": {"name": "frame"},
      "mark": {"type": "rect", "fill": null, "fillOpacity": 0, "stroke": "#c4c4c4", "strokeWidth": 1.5, "cornerRadius": 10},
      "encoding": {
        "x": {"field": "x", "type": "quantitative"},
        "y": {"field": "y", "type": "quantitative"},
        "x2": {"field": "x2"},
        "y2": {"field": "y2"}
      }
    }
  ]
}
